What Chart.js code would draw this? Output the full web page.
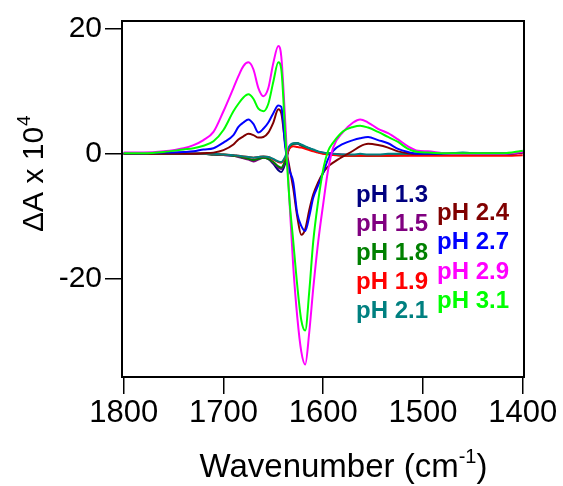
<!DOCTYPE html>
<html>
<head>
<meta charset="utf-8">
<script src="https://cdn.jsdelivr.net/npm/chart.js@4.4.1/dist/chart.umd.min.js"></script>
<style>
  html, body { margin: 0; padding: 0; background: #fff; }
  #wrap { width: 563px; height: 486px; }
</style>
</head>
<body>
<div id="wrap"><canvas id="ftirChart" width="563" height="486"></canvas></div>
<script>
// wavenumbers (cm-1), shared by every trace
const wavenumbers = [1800, 1780, 1760, 1740, 1730, 1720, 1710, 1700, 1690, 1685, 1680, 1675, 1670, 1665, 1660, 1655, 1650, 1645, 1642, 1638, 1634, 1630, 1626, 1622, 1618, 1614, 1610, 1605, 1600, 1595, 1590, 1580, 1570, 1563, 1555, 1545, 1535, 1525, 1515, 1505, 1495, 1480, 1460, 1440, 1420, 1400];

// delta A x 10^4 for each pH
const pH13 = [0, 0, 0, 0, 0, 0, -0.1, -0.2, -0.3, -0.4, -0.6, -0.8, -1.0, -0.8, -0.5, -0.8, -1.6, -2.6, -2.9, -1.5, 1.0, 1.6, 1.7, 1.4, 1.1, 0.9, 0.6, 0.3, 0.2, 0.1, 0, -0.2, -0.2, -0.2, -0.3, -0.2, -0.2, -0.2, -0.1, -0.1, -0.1, -0.1, 0, 0, 0, 0.2];
const pH15 = [0, 0, 0, 0, 0, 0, -0.1, -0.2, -0.3, -0.5, -0.7, -0.9, -1.2, -0.9, -0.6, -0.8, -1.4, -2.2, -2.4, -1.2, 1.0, 1.6, 1.6, 1.3, 1.0, 0.8, 0.5, 0.3, 0.1, 0, 0, -0.1, -0.2, -0.2, -0.2, -0.2, -0.2, -0.1, -0.1, -0.1, 0, 0, 0, 0, 0, 0.2];
const pH18 = [0, 0, 0, 0, 0, 0, -0.1, -0.1, -0.3, -0.4, -0.6, -0.8, -1.0, -0.8, -0.6, -0.8, -1.3, -2.0, -2.2, -1.0, 1.0, 1.6, 1.7, 1.4, 1.1, 0.8, 0.6, 0.3, 0.1, 0, -0.1, -0.3, -0.3, -0.3, -0.3, -0.3, -0.3, -0.2, -0.2, -0.1, -0.1, -0.1, -0.1, 0, 0, 0.3];
const pH19 = [0, 0, 0, 0, 0, 0, 0, -0.1, -0.2, -0.3, -0.4, -0.5, -0.6, -0.5, -0.4, -0.5, -0.9, -1.3, -1.4, -0.6, 0.8, 1.2, 1.1, 1.0, 0.8, 0.6, 0.4, 0.2, 0, -0.1, -0.2, -0.3, -0.3, -0.3, -0.3, -0.3, -0.3, -0.3, -0.3, -0.3, -0.3, -0.3, -0.3, -0.3, -0.3, -0.2];
const pH21 = [0, 0, 0, 0, 0, 0, 0, -0.1, -0.2, -0.3, -0.4, -0.5, -0.6, -0.5, -0.4, -0.5, -0.8, -1.2, -1.3, -0.4, 1.2, 1.7, 1.7, 1.5, 1.2, 0.9, 0.7, 0.4, 0.2, 0.1, 0, -0.1, -0.1, 0, -0.1, -0.1, 0, 0, 0, 0, 0, 0, 0.2, 0, 0, 0.4];
const pH24 = [0, 0, 0, 0, 0, 0.1, 0.2, 0.6, 1.5, 2.3, 2.8, 3.2, 3.0, 2.6, 2.7, 3.4, 5.0, 7.1, 6.5, 1.5, -2.0, -5.5, -10, -12.9, -12, -9, -6.5, -4.5, -3.0, -2.0, -1.4, -0.4, 0.5, 1.2, 1.6, 1.4, 1.0, 0.4, 0.1, 0, 0, 0, 0, 0, 0, 0.2];
const pH27 = [0.1, 0.1, 0.2, 0.3, 0.4, 0.7, 0.9, 1.8, 3.0, 4.3, 5.0, 5.5, 4.8, 3.4, 4.0, 5.0, 6.5, 7.7, 7.5, 1.0, -2.5, -4.5, -9.5, -11.5, -12.3, -10, -7, -5, -3, -0.8, 0.5, 1.6, 2.2, 2.5, 2.7, 2.2, 1.7, 0.8, 0.3, 0, 0, 0, 0.1, 0, 0, 0.3];
const pH29 = [0.2, 0.2, 0.4, 0.9, 1.4, 2.2, 3.5, 6.8, 10.5, 12.4, 14.0, 14.6, 13.5, 10.5, 9.2, 10.5, 14.5, 17.2, 15.5, 5.0, -7, -18, -26, -31.5, -33.6, -28.5, -21.5, -14, -8, -2.5, 1.0, 3.5, 5.0, 5.5, 5.0, 4.0, 3.3, 2.3, 1.2, 0.5, 0.4, 0.1, 0, 0, 0, 0.3];
const pH31 = [0.1, 0.1, 0.3, 0.7, 0.9, 1.3, 2.0, 3.8, 6.8, 8.0, 9.0, 9.5, 8.8, 7.2, 6.8, 8.0, 11.5, 14.6, 13.5, 3.0, -7, -14, -21, -26.5, -28.2, -22, -14, -7.5, -2.5, 0.5, 1.8, 3.6, 4.3, 4.5, 4.2, 3.5, 2.7, 1.9, 0.8, 0.3, 0.2, 0.1, 0.1, 0.1, 0.1, 0.5];

const seriesLabels = ['pH 1.3', 'pH 1.5', 'pH 1.8', 'pH 1.9', 'pH 2.1', 'pH 2.4', 'pH 2.7', 'pH 2.9', 'pH 3.1'];
const seriesValues = [pH13, pH15, pH18, pH19, pH21, pH24, pH27, pH29, pH31];
const seriesColors = ['#000080', '#800080', '#008000', '#ff0000', '#008080', '#800000', '#0000ff', '#ff00ff', '#00ff00'];

const xTicks = [1800, 1700, 1600, 1500, 1400];
const yTicks = [-20, 0, 20];

const FONT = "'Liberation Sans', Arial, sans-serif";

// frame, axis titles with superscripts, text legend
const decorations = {
    id: 'decorations',
    afterDraw(chart) {
        const ctx = chart.ctx;
        const a = chart.chartArea;
        ctx.save();
        ctx.strokeStyle = '#000';
        ctx.lineWidth = 2;
        ctx.strokeRect(a.left, a.top, a.right - a.left, a.bottom - a.top);

        ctx.fillStyle = '#000';
        ctx.textBaseline = 'alphabetic';
        ctx.textAlign = 'left';

        // x title
        const big = '33px ' + FONT, small = '20px ' + FONT;
        ctx.font = big;
        const p1 = 'Wavenumber (cm', p3 = ')';
        const w1 = ctx.measureText(p1).width, w3 = ctx.measureText(p3).width;
        ctx.font = small;
        const w2 = ctx.measureText('-1').width;
        let x0 = 343.5 - (w1 + w2 + w3) / 2;
        const yb = 477;
        ctx.font = big;
        ctx.fillText(p1, x0, yb);
        ctx.font = small;
        ctx.fillText('-1', x0 + w1, yb - 14);
        ctx.font = big;
        ctx.fillText(p3, x0 + w1 + w2, yb);

        // y title
        const ybig = '30px ' + FONT, ysmall = '19px ' + FONT;
        ctx.save();
        ctx.translate(43, 232);
        ctx.rotate(-Math.PI / 2);
        ctx.font = ybig;
        const t1 = '\u0394A x 10';
        const tw = ctx.measureText(t1).width;
        ctx.fillText(t1, 0, 0);
        ctx.font = ysmall;
        ctx.fillText('4', tw + 1, -13);
        ctx.restore();

        // legend (two columns of coloured text)
        ctx.font = 'bold 24px ' + FONT;
        ctx.textBaseline = 'middle';
        chart.data.datasets.forEach((ds, i) => {
            const col = i < 5 ? 0 : 1;
            const row = i < 5 ? i : i - 5;
            const lx = col === 0 ? 356 : 437;
            const ly = col === 0 ? 195 + row * 29.2 : 213 + row * 29.6;
            ctx.fillStyle = ds.borderColor;
            ctx.fillText(ds.label, lx, ly);
        });
        ctx.restore();
    }
};

const ctx = document.getElementById('ftirChart').getContext('2d');
new Chart(ctx, {
    type: 'line',
    data: {
        datasets: seriesLabels.map((label, i) => ({
            label: label,
            data: wavenumbers.map((w, j) => ({ x: w, y: seriesValues[i][j] })),
            borderColor: seriesColors[i],
            backgroundColor: seriesColors[i],
            borderWidth: 2,
            pointRadius: 0,
            fill: false,
            cubicInterpolationMode: 'monotone',
            order: seriesLabels.length - i
        }))
    },
    options: {
        responsive: false,
        animation: false,
        layout: {
            padding: { top: 17, right: 39, left: 0, bottom: 0 }
        },
        plugins: {
            legend: { display: false },
            tooltip: { enabled: false }
        },
        scales: {
            x: {
                type: 'linear',
                reverse: true,
                min: 1398.7,
                max: 1801.7,
                afterBuildTicks: (scale) => { scale.ticks = xTicks.map(v => ({ value: v })); },
                afterFit: (scale) => { scale.height = 109; },
                grid: { drawOnChartArea: false, tickLength: 17, color: '#000', lineWidth: 1.5 },
                border: { display: true, color: '#000', width: 2 },
                ticks: {
                    color: '#000',
                    padding: 1,
                    maxRotation: 0,
                    autoSkip: false,
                    callback: (v) => String(v),
                    font: { family: FONT, size: 31 }
                }
            },
            y: {
                min: -35.6,
                max: 21.2,
                afterBuildTicks: (scale) => { scale.ticks = yTicks.map(v => ({ value: v })); },
                afterFit: (scale) => { scale.width = 122; },
                grid: { drawOnChartArea: false, tickLength: 17, color: '#000', lineWidth: 1.5 },
                border: { display: true, color: '#000', width: 2 },
                ticks: {
                    color: '#000',
                    padding: 3,
                    callback: (v) => String(v),
                    font: { family: FONT, size: 30 }
                }
            }
        }
    },
    plugins: [decorations]
});
</script>
</body>
</html>
